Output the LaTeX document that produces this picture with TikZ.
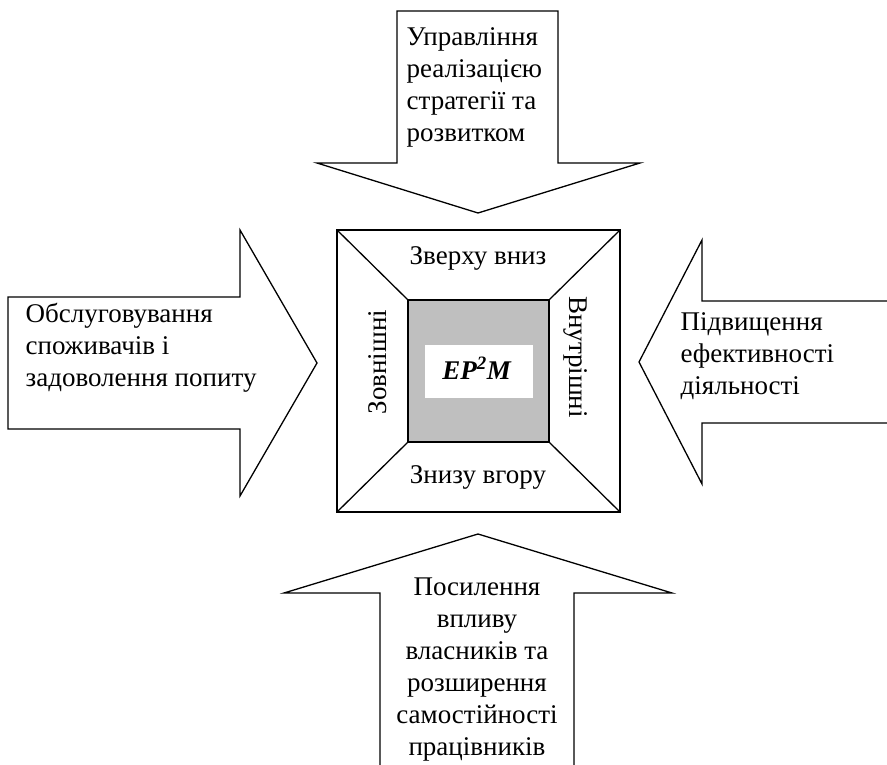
\documentclass[tikz,border=0pt]{standalone}
\usepackage{fontspec}
\setmainfont{Liberation Serif}
\begin{document}
\begin{tikzpicture}[x=1pt,y=-1pt, line width=1.3pt, line join=miter,
  outl/.style={draw=black, fill=white},
  lbl/.style={font=\fontsize{27}{32}\selectfont, inner sep=0pt},
  grayc/.style={draw=black, fill=black!25}]
\useasboundingbox (0,0) rectangle (887,765);
% arrows
\draw[outl] (397,11) -- (558,11) -- (558,163) -- (640,163) -- (478,213) -- (317,163) -- (397,163) -- cycle;
\draw[outl] (8,297) -- (240,297) -- (240,230) -- (317,363) -- (240,496) -- (240,429) -- (8,429) -- cycle;
\fill[white] (887,301) -- (702,301) -- (702,240) -- (639,362) -- (702,484) -- (702,423) -- (887,423) -- cycle;
\draw (887,301) -- (702,301) -- (702,240) -- (639,362) -- (702,484) -- (702,423) -- (887,423);
\fill[white] (380,765) -- (380,593) -- (284,593) -- (478,534) -- (672,593) -- (574,593) -- (574,765) -- cycle;
\draw (380,765) -- (380,593) -- (284,593) -- (478,534) -- (672,593) -- (574,593) -- (574,765);
% central square
\coordinate (o1) at (337,230); \coordinate (o2) at (620,230);
\coordinate (o3) at (620,512); \coordinate (o4) at (337,512);
\coordinate (i1) at (408,300); \coordinate (i2) at (549,300);
\coordinate (i3) at (549,442); \coordinate (i4) at (408,442);
\draw[outl] (o1) rectangle (o3);
\draw[grayc] (i1) rectangle (i3);
\draw (o1) -- (i1) (o2) -- (i2) (o3) -- (i3) (o4) -- (i4);
\fill[white] (425,345) rectangle (533,398);
% texts
\node[lbl, align=left, anchor=west] (ttop) at (406,87) {Управління\\реалізацією\\стратегії та\\розвитком};
\node[lbl, align=left, anchor=west] (tleft) at (25,348) {Обслуговування\\споживачів і\\задоволення попиту};
\node[lbl, align=left, anchor=west] (tright) at (680,356) {Підвищення\\ефективності\\діяльності};
\node[lbl, align=center, anchor=center] (tbot) at (477,670) {Посилення\\впливу\\власників та\\розширення\\самостійності\\працівників};
\node[lbl, anchor=base] (sq1) at (478,265) {Зверху вниз};
\node[lbl, anchor=base] (sq2) at (478,483) {Знизу вгору};
\node[lbl, anchor=base, rotate=90] (sq3) at (386,362) {Зовнішні};
\node[lbl, anchor=base, rotate=-90] (sq4) at (569,357) {Внутрішні};
\node[lbl, anchor=base] (core) at (477,379) {\textbf{\textit{EP\textsuperscript{2}M}}};
\end{tikzpicture}
\end{document}
